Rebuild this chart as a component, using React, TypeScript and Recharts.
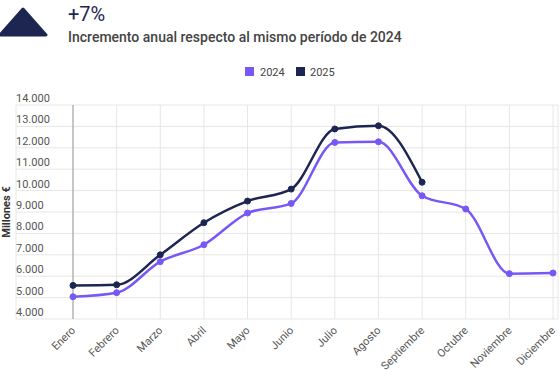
import React from 'react';
import { LineChart, Line, XAxis, YAxis, CartesianGrid, ReferenceLine } from 'recharts';

const months = ['Enero', 'Febrero', 'Marzo', 'Abril', 'Mayo', 'Junio', 'Julio', 'Agosto', 'Septiembre', 'Octubre', 'Noviembre', 'Diciembre'];
const values2024 = [5040, 5230, 6680, 7470, 8950, 9400, 12250, 12280, 9760, 9140, 6120, 6150];
const values2025: (number | null)[] = [5570, 5600, 7000, 8500, 9510, 10070, 12880, 13030, 10390, null, null, null];
const yTicks = [4000, 5000, 6000, 7000, 8000, 9000, 10000, 11000, 12000, 13000, 14000];
const seriesNames = ['2024', '2025'];
const headline = '+7%';
const subtitle = 'Incremento anual respecto al mismo período de 2024';
const yTitle = 'Millones €';

const C2024 = '#7758f6';
const C2025 = '#1c2651';
const FONT = 'Roboto, "Noto Sans", sans-serif';

const data = months.map((m, i) => ({ month: m, v2024: values2024[i], v2025: values2025[i] }));

const fmt = (v: number) => v.toLocaleString('de-DE');

const YTick = (props: any) => {
  const { y, payload } = props;
  return (
    <text x={16} y={y - 3} textAnchor="start" fill="#555" fontSize={11} fontFamily={FONT}>
      {fmt(payload.value)}
    </text>
  );
};

const XTick = (props: any) => {
  const { x, y, payload } = props;
  return (
    <g transform={`translate(${x + 3},${y + 12})`}>
      <text x={0} y={0} textAnchor="end" transform="rotate(-45)" fill="#555" fontSize={11} fontFamily={FONT}>
        {payload.value}
      </text>
    </g>
  );
};

export default function App() {
  return (
    <div style={{ position: 'absolute', left: 0, top: 0, width: 560, height: 376, background: '#fff' }}>
      <LineChart width={560} height={376} data={data} margin={{ top: 105, right: 2, bottom: 0, left: 0 }}>
        <CartesianGrid stroke="#e6e6e6" strokeWidth={1} />
        <XAxis
          dataKey="month"
          padding={{ left: 57, right: 5 }}
          height={57}
          tickLine={false}
          axisLine={false}
          tickSize={0}
          tickMargin={0}
          interval={0}
          tick={<XTick />}
        />
        <YAxis
          width={16}
          domain={[4000, 14000]}
          ticks={yTicks}
          interval={0}
          tickLine={false}
          axisLine={false}
          tick={<YTick />}
          label={{
            content: (p: any) => {
              const vb = p.viewBox || { y: 105, height: 214 };
              const cy = vb.y + vb.height / 2;
              return (
                <text x={0} y={0} transform={`translate(10,${cy}) rotate(-90)`} textAnchor="middle" fill="#333" fontSize={11} fontWeight={700} fontFamily={FONT}>
                  {yTitle}
                </text>
              );
            },
          }}
        />
        <ReferenceLine x={months[0]} stroke="#9a9a9a" strokeWidth={1} />
        <Line
          type="monotone"
          dataKey="v2024"
          name={seriesNames[0]}
          stroke={C2024}
          strokeWidth={2.5}
          dot={{ r: 3, fill: C2024, stroke: C2024, strokeWidth: 1 }}
          activeDot={false}
          isAnimationActive={false}
        />
        <Line
          type="monotone"
          dataKey="v2025"
          name={seriesNames[1]}
          stroke={C2025}
          strokeWidth={2.5}
          dot={{ r: 3, fill: C2025, stroke: C2025, strokeWidth: 1 }}
          activeDot={false}
          isAnimationActive={false}
        />
      </LineChart>
      <svg width={560} height={90} style={{ position: 'absolute', left: 0, top: 0, pointerEvents: 'none' }}>
        <polygon points="23,9 46,35 0,35" fill={C2025} stroke={C2025} strokeWidth={3} strokeLinejoin="round" />
        <text x={68} y={21} fill={C2025} fontSize={20} fontFamily={FONT} fontWeight={400}>{headline}</text>
        <text x={68} y={42} fill="#444" fontSize={14} fontFamily={FONT} fontWeight={500}>{subtitle}</text>
        <rect x={245} y={67} width={9} height={9} fill={C2024} />
        <text x={260} y={76} fill="#444" fontSize={11} fontFamily={FONT}>{seriesNames[0]}</text>
        <rect x={296} y={67} width={9} height={9} fill={C2025} />
        <text x={310} y={76} fill="#444" fontSize={11} fontFamily={FONT}>{seriesNames[1]}</text>
      </svg>
    </div>
  );
}
